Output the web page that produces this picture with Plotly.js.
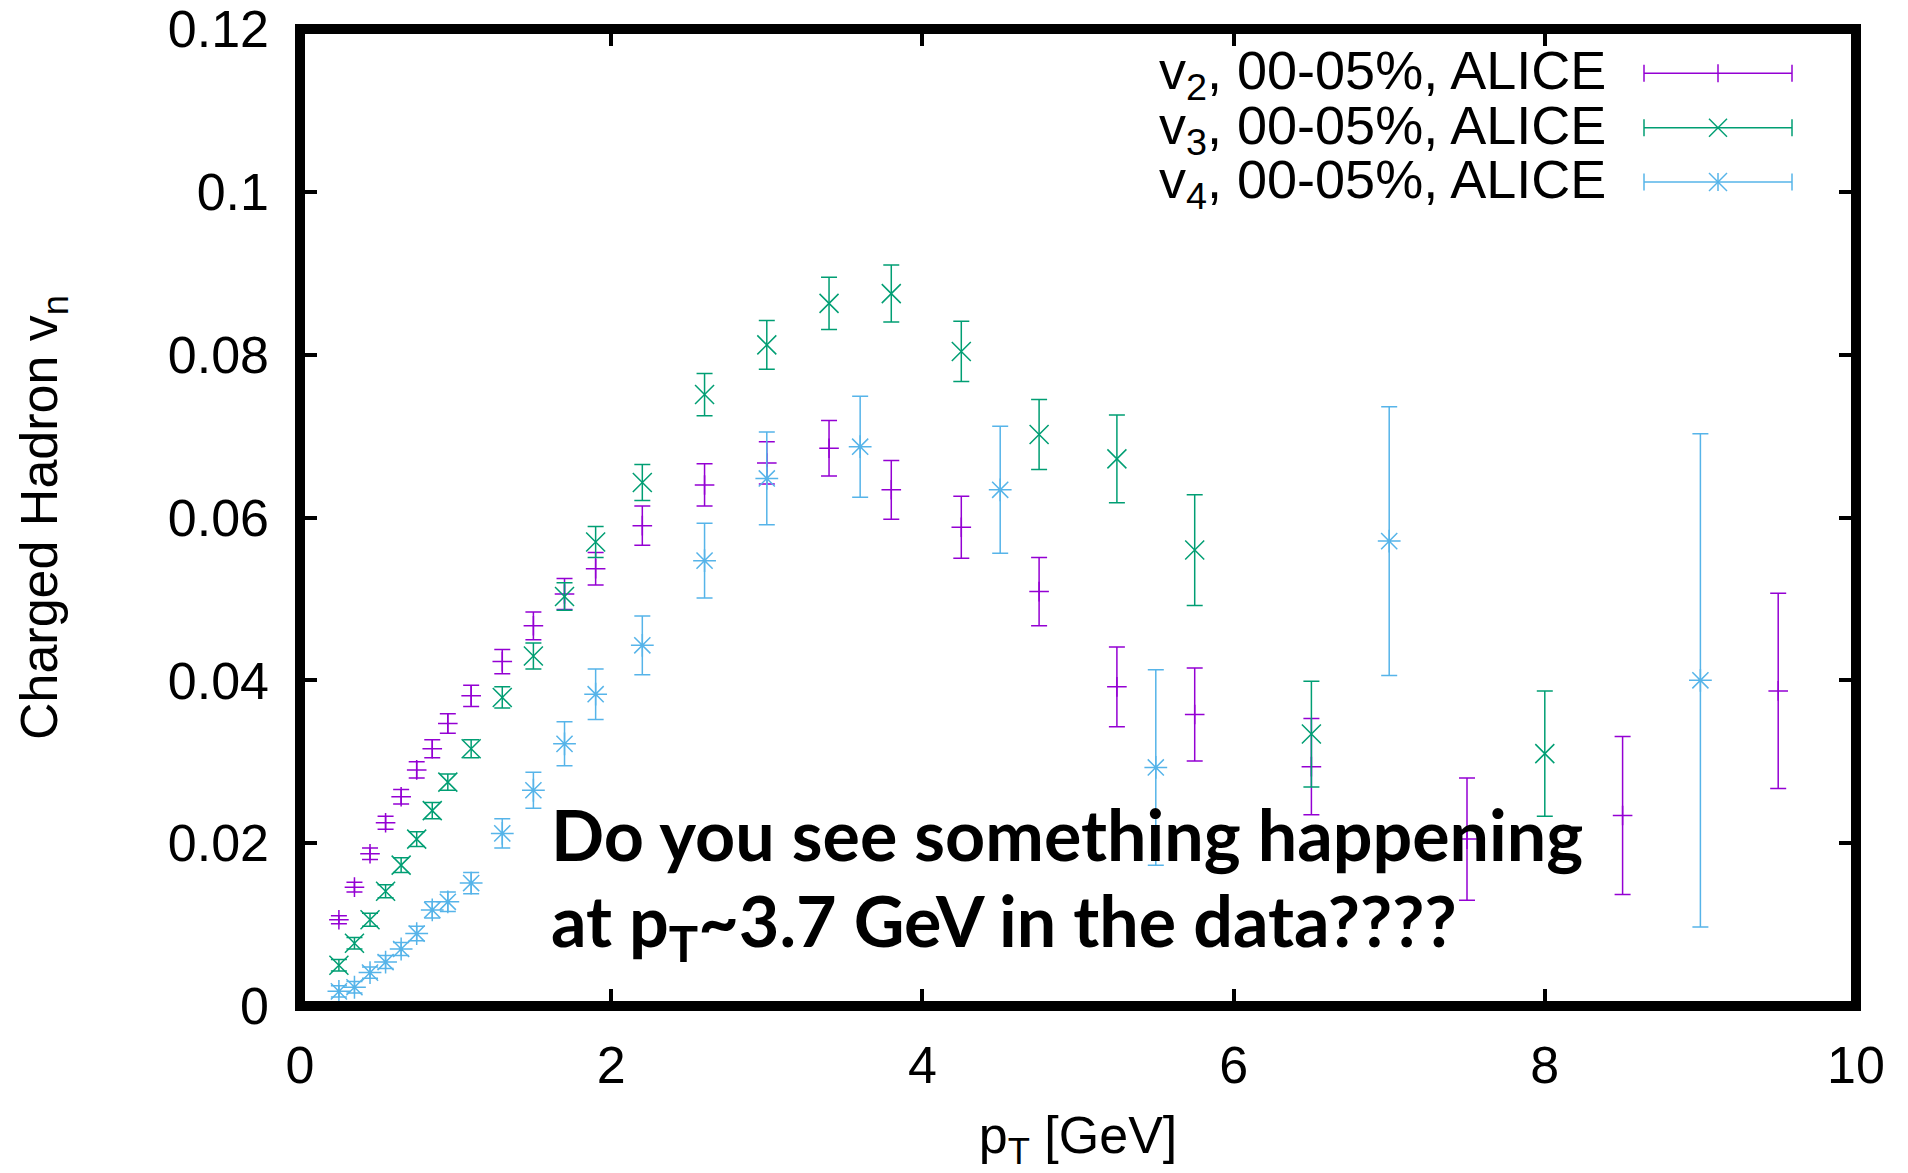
<!DOCTYPE html>
<html>
<head>
<meta charset="utf-8">
<script src="https://cdn.plot.ly/plotly-3.0.1.min.js"></script>
<style>html,body{margin:0;padding:0;background:#fff;}#chart{width:1908px;height:1173px;}</style>
</head>
<body>
<div id="chart"></div>
<script>
// ---- data ----
const v2_pt  = [0.25,0.35,0.45,0.55,0.65,0.75,0.85,0.95,1.1,1.3,1.5,1.7,1.9,2.2,2.6,3.0,3.4,3.8,4.25,4.75,5.25,5.75,6.5,7.5,8.5,9.5];
const v2_val = [0.0106,0.0146,0.0187,0.0225,0.0257,0.0290,0.0316,0.0347,0.0381,0.0423,0.0467,0.0506,0.0537,0.0590,0.0640,0.0667,0.0685,0.0634,0.0588,0.0509,0.0392,0.0358,0.0294,0.0205,0.0234,0.0387];
const v2_err = [0.0005,0.0006,0.0007,0.0008,0.0009,0.0010,0.0011,0.0012,0.0013,0.0015,0.0017,0.0019,0.0020,0.0024,0.0026,0.0026,0.0034,0.0036,0.0038,0.0042,0.0049,0.0057,0.0059,0.0075,0.0097,0.0120];

const v3_pt  = [0.25,0.35,0.45,0.55,0.65,0.75,0.85,0.95,1.1,1.3,1.5,1.7,1.9,2.2,2.6,3.0,3.4,3.8,4.25,4.75,5.25,5.75,6.5,8.0];
const v3_val = [0.0050,0.0077,0.0106,0.0141,0.0173,0.0205,0.0240,0.0275,0.0316,0.0379,0.0430,0.0503,0.0570,0.0643,0.0751,0.0812,0.0863,0.0875,0.0804,0.0702,0.0672,0.0560,0.0334,0.0310];
const v3_err = [0.0007,0.0007,0.0008,0.0008,0.0009,0.0009,0.0010,0.0010,0.0011,0.0013,0.0016,0.0017,0.0019,0.0022,0.0026,0.0030,0.0032,0.0035,0.0037,0.0043,0.0054,0.0068,0.0065,0.0077];

const v4_pt  = [0.25,0.35,0.45,0.55,0.65,0.75,0.85,0.95,1.1,1.3,1.5,1.7,1.9,2.2,2.6,3.0,3.6,4.5,5.5,7.0,9.0];
const v4_val = [0.0018,0.0023,0.0041,0.0054,0.0070,0.0089,0.0118,0.0128,0.0151,0.0212,0.0265,0.0322,0.0383,0.0443,0.0547,0.0648,0.0687,0.0634,0.0293,0.0571,0.0400];
const v4_err = [0.0007,0.0007,0.0007,0.0008,0.0008,0.0009,0.0010,0.0012,0.0013,0.0018,0.0022,0.0027,0.0031,0.0036,0.0046,0.0057,0.0062,0.0078,0.0120,0.0165,0.0303];

const seriesNames = ['v<sub>2</sub>, 00-05%, ALICE','v<sub>3</sub>, 00-05%, ALICE','v<sub>4</sub>, 00-05%, ALICE'];
const seriesColors = ['#9400d3','#009e73','#56b4e9'];
const seriesSymbols = ['cross-thin-open','x-thin-open','asterisk-open'];
const xTitle = 'p<sub>T</sub> [GeV]';
const yTitle = 'Charged Hadron v<sub>n</sub>';
const noteLines = ['Do you see something happening','at p<sub>T</sub>~3.7 GeV in the data????'];

// ---- geometry ----
const W = 1908, H = 1173;
const M = {l:300, r:52, t:29, b:167};
const PW = W - M.l - M.r, PH = H - M.t - M.b;
const px = x => (x - M.l) / PW;
const py = y => (H - M.b - y) / PH;
const FONT = 'Liberation Sans, Arial, sans-serif';

const xs = [v2_pt, v3_pt, v4_pt], ys = [v2_val, v3_val, v4_val], es = [v2_err, v3_err, v4_err];
const sizes = [14, 19, 19];
const traces = xs.map((x, i) => ({
  type: 'scatter', mode: 'markers', x: x, y: ys[i], showlegend: false,
  marker: {symbol: seriesSymbols[i], size: sizes[i], color: seriesColors[i], line: {color: seriesColors[i], width: 1.5}},
  error_y: {type: 'data', array: es[i], visible: true, color: seriesColors[i], thickness: 1.5, width: 8},
  hoverinfo: 'skip'
}));

// ---- manual gnuplot-style key (text, then sample on the right) ----
const keyRowsY = [73.3, 127.7, 182];
const keyX0 = 1644, keyX1 = 1792, keyXm = 1718, capH = 8.5, mk = 9;
const shapes = [];
const annotations = [];
function seg(x0, y0, x1, y1, color) {
  shapes.push({type: 'line', xref: 'paper', yref: 'paper', x0: px(x0), y0: py(y0), x1: px(x1), y1: py(y1), line: {color: color, width: 1.5}});
}
keyRowsY.forEach((yk, i) => {
  const c = seriesColors[i];
  seg(keyX0, yk, keyX1, yk, c);
  seg(keyX0, yk - capH, keyX0, yk + capH, c);
  seg(keyX1, yk - capH, keyX1, yk + capH, c);
  if (i === 0) { seg(keyXm, yk - mk, keyXm, yk + mk, c); }
  if (i === 1) { seg(keyXm - mk, yk - mk, keyXm + mk, yk + mk, c); seg(keyXm - mk, yk + mk, keyXm + mk, yk - mk, c); }
  if (i === 2) { seg(keyXm, yk - mk, keyXm, yk + mk, c); seg(keyXm - mk, yk - mk, keyXm + mk, yk + mk, c); seg(keyXm - mk, yk + mk, keyXm + mk, yk - mk, c); }
  annotations.push({xref: 'paper', yref: 'paper', x: px(1608), y: py(yk + 1), xanchor: 'right', yanchor: 'middle',
    text: seriesNames[i], showarrow: false, font: {family: FONT, size: 54, color: '#000'}});
});

// frame
shapes.push({type: 'rect', xref: 'paper', yref: 'paper', x0: 0, y0: 0, x1: 1, y1: 1, line: {color: '#000', width: 10}, layer: 'above'});

// note
annotations.push({xref: 'paper', yref: 'paper', x: px(549), y: py(834), xanchor: 'left', yanchor: 'middle',
  text: '<b>' + noteLines[0] + '</b>', showarrow: false, font: {family: 'Lato, sans-serif', size: 70, color: '#000'}});
annotations.push({xref: 'paper', yref: 'paper', x: px(549), y: py(925), xanchor: 'left', yanchor: 'middle',
  text: '<b>' + noteLines[1] + '</b>', showarrow: false, font: {family: 'Lato, sans-serif', size: 70, color: '#000'}});

const axisCommon = {
  ticks: 'inside', ticklen: 17, tickwidth: 4, tickcolor: '#000', mirror: 'ticks',
  showline: false, showgrid: false, zeroline: false,
  tickfont: {family: FONT, size: 52, color: '#000'}
};

const layout = {
  width: W, height: H, margin: M, paper_bgcolor: '#fff', plot_bgcolor: '#fff',
  font: {family: FONT, color: '#000'},
  showlegend: false,
  xaxis: Object.assign({}, axisCommon, {range: [0, 10], tick0: 0, dtick: 2, ticklabelstandoff: 24,
    title: {text: xTitle, font: {family: FONT, size: 52, color: '#000'}, standoff: 23}}),
  yaxis: Object.assign({}, axisCommon, {range: [0, 0.12], tick0: 0, dtick: 0.02, ticklabelstandoff: 30,
    title: {text: yTitle, font: {family: FONT, size: 52, color: '#000'}, standoff: 93}}),
  shapes: shapes,
  annotations: annotations
};

Plotly.newPlot('chart', traces, layout, {staticPlot: true, displayModeBar: false});
</script>
</body>
</html>
